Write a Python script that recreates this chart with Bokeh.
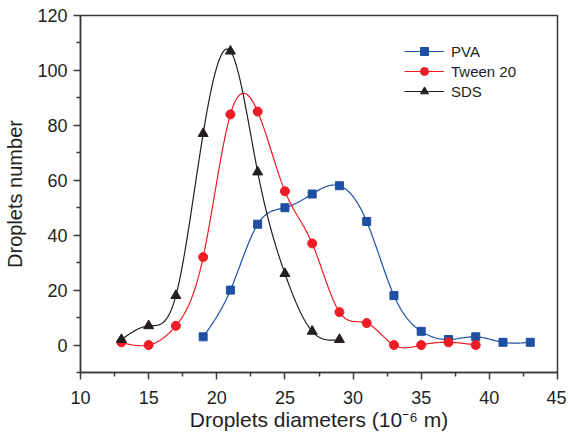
import numpy as np
from bokeh.plotting import figure
from bokeh.models import FixedTicker, Range1d, Legend, LegendItem
from bokeh.embed import file_html
from bokeh.resources import INLINE

# ---- data ----
diam_pva = [19, 21, 23, 25, 27, 29, 31, 33, 35, 37, 39, 41, 43]
num_pva = [3, 20, 44, 50, 55, 58, 45, 18, 5, 2, 3, 1, 1]

diam_tween = [13, 15, 17, 19, 21, 23, 25, 27, 29, 31, 33, 35, 37, 39]
num_tween = [1, 0, 7, 32, 84, 85, 56, 37, 12, 8, 0, 0, 1, 0]

diam_sds = [13, 15, 17, 19, 21, 23, 25, 27, 29]
num_sds = [2, 7, 18, 77, 107, 63, 26, 5, 2]

x_ticks = [10, 15, 20, 25, 30, 35, 40, 45]
y_ticks = [0, 20, 40, 60, 80, 100, 120]

FONT = "Liberation Sans"
C_PVA = "#1d4fa3"
C_TWEEN = "#ee1c25"
C_SDS = "#231f20"
AX = "#3a3a3a"


def spline(xs, ys, n=300):
    """Natural cubic spline through the data points (for the smooth line)."""
    x = np.asarray(xs, float)
    y = np.asarray(ys, float)
    m = len(x)
    h = np.diff(x)
    A = np.zeros((m, m))
    b = np.zeros(m)
    A[0, 0] = A[-1, -1] = 1.0
    for i in range(1, m - 1):
        A[i, i - 1] = h[i - 1]
        A[i, i] = 2 * (h[i - 1] + h[i])
        A[i, i + 1] = h[i]
        b[i] = 6 * ((y[i + 1] - y[i]) / h[i] - (y[i] - y[i - 1]) / h[i - 1])
    M = np.linalg.solve(A, b)
    xx = np.linspace(x[0], x[-1], n)
    idx = np.clip(np.searchsorted(x, xx) - 1, 0, m - 2)
    x0, x1 = x[idx], x[idx + 1]
    hh = x1 - x0
    t0 = x1 - xx
    t1 = xx - x0
    yy = (M[idx] * t0 ** 3 / (6 * hh) + M[idx + 1] * t1 ** 3 / (6 * hh)
          + (y[idx] / hh - M[idx] * hh / 6) * t0
          + (y[idx + 1] / hh - M[idx + 1] * hh / 6) * t1)
    return xx, yy


p = figure(width=566, height=433, output_backend="svg", toolbar_location=None,
           x_range=Range1d(10, 45), y_range=Range1d(-10, 120),
           min_border_left=80, min_border_top=15, min_border_right=9, min_border_bottom=60)

p.background_fill_color = "white"
p.border_fill_color = "white"
p.grid.visible = False
p.outline_line_color = AX
p.outline_line_width = 1.5

items = []
series = [
    ("PVA", diam_pva, num_pva, C_PVA, "square", 8),
    ("Tween 20", diam_tween, num_tween, C_TWEEN, "circle", 9),
    ("SDS", diam_sds, num_sds, C_SDS, "triangle", 10),
]
for label, xs, ys, col, marker, size in series:
    sx, sy = spline(xs, ys)
    r1 = p.line(sx, sy, line_color=col, line_width=1.2)
    r2 = p.scatter(xs, ys, marker=marker, size=size, fill_color=col, line_color=col)
    items.append(LegendItem(label=label, renderers=[r1, r2]))

legend = Legend(items=items, location=(324, 271))
legend.background_fill_alpha = 0
legend.border_line_alpha = 0
legend.padding = 0
legend.margin = 0
legend.spacing = 0
legend.glyph_width = 40
legend.glyph_height = 20
legend.label_height = 20
legend.label_standoff = 7
legend.label_text_font = FONT
legend.label_text_font_size = "15px"
legend.label_text_color = "#231f20"
p.add_layout(legend)

for ax in (p.xaxis[0], p.yaxis[0]):
    ax.axis_line_color = AX
    ax.axis_line_width = 1.5
    ax.major_tick_line_color = AX
    ax.minor_tick_line_color = AX
    ax.major_tick_line_width = 1.5
    ax.minor_tick_line_width = 1.5
    ax.major_tick_out = 7
    ax.major_tick_in = 0
    ax.minor_tick_out = 4
    ax.minor_tick_in = 0
    ax.major_label_text_font = FONT
    ax.major_label_text_font_size = "18px"
    ax.major_label_text_color = "#231f20"
    ax.axis_label_text_font = FONT
    ax.axis_label_text_font_size = "20px"
    ax.axis_label_text_font_style = "normal"
    ax.axis_label_text_color = "#231f20"

p.xaxis.axis_label_text_font_size = "21px"
p.xaxis.ticker = FixedTicker(ticks=x_ticks,
                             minor_ticks=[t + 2.5 for t in x_ticks[:-1]])
p.yaxis.ticker = FixedTicker(ticks=y_ticks,
                             minor_ticks=[-10] + [t + 10 for t in y_ticks[:-1]])
p.xaxis.major_label_standoff = 11
p.yaxis.major_label_standoff = 6
p.xaxis.axis_label = "Droplets diameters (10\u207b\u2076 m)"
p.yaxis.axis_label = "Droplets number"
p.xaxis.axis_label_standoff = 1
p.yaxis.axis_label_standoff = 8

open("out.html", "w").write(file_html(p, INLINE))
